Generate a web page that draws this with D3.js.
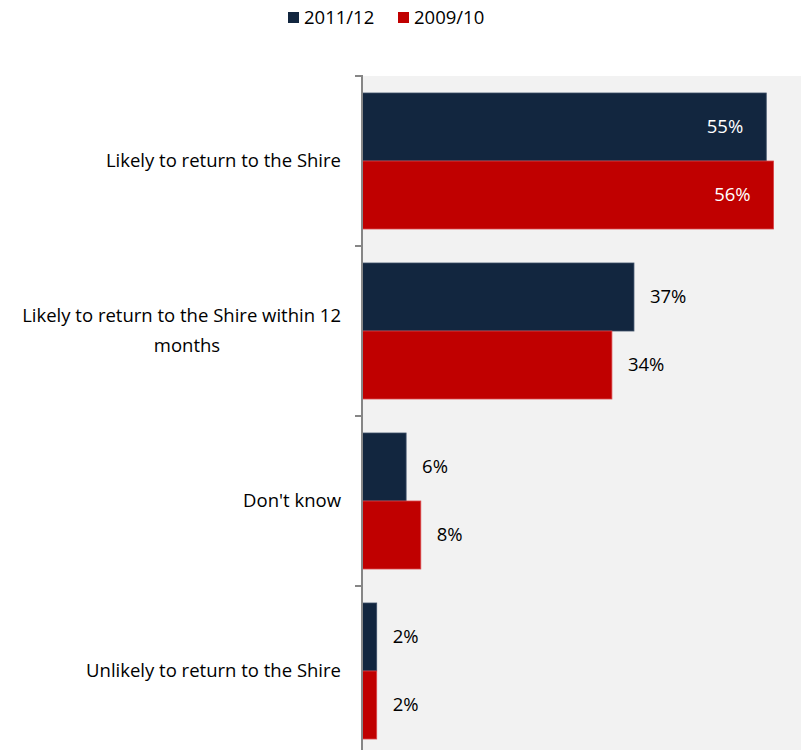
<!DOCTYPE html>
<html>
<head>
<meta charset="utf-8">
<script src="https://cdn.jsdelivr.net/npm/d3@7"></script>
<style>
  html, body { margin: 0; padding: 0; background: #ffffff; }
  svg { display: block; font-family: "Open Sans", sans-serif; }
</style>
</head>
<body>
<svg id="chart" width="801" height="750"></svg>
<script>
// Survey responses: likelihood of returning to the Shire
const categories = [
  "Likely to return to the Shire",
  "Likely to return to the Shire within 12 months",
  "Don't know",
  "Unlikely to return to the Shire"
];
const seriesNames = ["2011/12", "2009/10"];
const values2011 = [55, 37, 6, 2];
const values2009 = [56, 34, 8, 2];
const colors = ["#12263f", "#c00000"];

const FS = 18.5;
const svg = d3.select("#chart");
const plot = { left: 362, top: 76, right: 803, bottom: 756 };

const x = d3.scaleLinear().domain([0, 60]).range([plot.left, plot.right]);
const y = d3.scaleBand().domain(categories).range([plot.top, plot.bottom]).paddingInner(0.2).paddingOuter(0.1);
const ySub = d3.scaleBand().domain(seriesNames).range([0, y.bandwidth()]);
const yCat = d3.scaleBand().domain(categories).range([plot.top, plot.bottom]);

// plot background
svg.append("rect")
  .attr("x", plot.left).attr("y", plot.top)
  .attr("width", plot.right - plot.left).attr("height", plot.bottom - plot.top)
  .attr("fill", "#f2f2f2");

const data = categories.map((c, i) => ({ cat: c, vals: [values2011[i], values2009[i]] }));

const groups = svg.append("g").selectAll("g").data(data).join("g")
  .attr("transform", d => `translate(0,${yCat(d.cat) + (yCat.bandwidth() - y.bandwidth()) / 2})`);

groups.selectAll("rect").data(d => d.vals.map((v, j) => ({ v, s: seriesNames[j], j }))).join("rect")
  .attr("x", x(0))
  .attr("y", d => ySub(d.s))
  .attr("width", d => x(d.v) - x(0))
  .attr("height", ySub.bandwidth())
  .attr("fill", d => colors[d.j])
  .attr("stroke", d => d.j === 0 ? "#3d4f68" : "#d9474a")
  .attr("stroke-width", 0.8);

// value labels: inside for the longest bars, outside for the rest
groups.selectAll("text.val").data(d => d.vals.map((v, j) => ({ v, s: seriesNames[j], j }))).join("text")
  .attr("class", "val")
  .attr("x", d => d.v > 45 ? x(d.v) - 23 : x(d.v) + 16)
  .attr("y", d => ySub(d.s) + ySub.bandwidth() / 2)
  .attr("dy", "0.35em")
  .attr("text-anchor", d => d.v > 45 ? "end" : "start")
  .attr("font-size", FS)
  .attr("fill", d => d.v > 45 ? "#ffffff" : "#000000")
  .text(d => d.v + "%");

// category axis
const axis = d3.axisLeft(yCat).tickSize(7).tickFormat("");
const axG = svg.append("g").attr("transform", `translate(${plot.left},0)`).call(axis);
axG.selectAll("line").attr("stroke", "#868686").attr("stroke-width", 2);
axG.select(".domain").attr("stroke", "#868686").attr("stroke-width", 2)
  .attr("d", `M-7,${plot.top}H0V${plot.bottom}`);
// ticks sit on category boundaries
axG.selectAll(".tick").attr("transform", d => `translate(0,${yCat(d)})`);
axG.selectAll(".tick line").attr("x1", -7).attr("x2", 0);

// category labels
const labelX = 341;
const lbl = svg.append("g").attr("font-size", FS).attr("fill", "#000");
categories.forEach((c, i) => {
  const cy = yCat(c) + yCat.bandwidth() / 2;
  if (i === 1) {
    lbl.append("text").attr("x", labelX).attr("y", cy - 15).attr("dy", "0.35em")
      .attr("text-anchor", "end").text("Likely to return to the Shire within 12");
    lbl.append("text").attr("x", 187).attr("y", cy + 15).attr("dy", "0.35em")
      .attr("text-anchor", "middle").text("months");
  } else {
    lbl.append("text").attr("x", labelX).attr("y", cy).attr("dy", "0.35em")
      .attr("text-anchor", "end").text(c);
  }
});

// legend
const legend = svg.append("g").attr("font-size", FS);
const legendItems = [{ name: seriesNames[0], x: 288 }, { name: seriesNames[1], x: 398 }];
legendItems.forEach((it, j) => {
  legend.append("rect").attr("x", it.x).attr("y", 12).attr("width", 11).attr("height", 11).attr("fill", colors[j]);
  legend.append("text").attr("x", it.x + 16).attr("y", 17.5).attr("dy", "0.35em").text(it.name);
});
</script>
</body>
</html>
